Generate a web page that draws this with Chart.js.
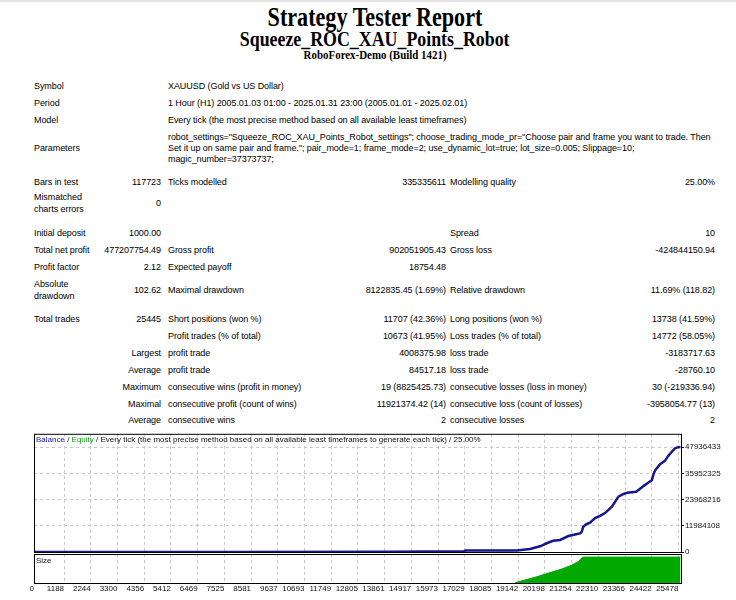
<!DOCTYPE HTML>
<html>
<head>
<script src="https://cdn.jsdelivr.net/npm/chart.js"></script>
<style>
    body { margin:0; background:#fff; width:736px; height:600px; position:relative; overflow:hidden;
           font-family:"Liberation Sans", Arial, sans-serif; color:#000; }
    .topline { position:absolute; left:0; top:0; width:736px; height:2px; background:#e4e4e4; }
    .t { position:absolute; font-size:9px; line-height:12px; white-space:nowrap; letter-spacing:-0.07px; }
    .h { position:absolute; left:0; width:750px; text-align:center; white-space:nowrap;
         font-family:"Liberation Serif", "Times New Roman", serif; font-weight:bold; }
    .h span { display:inline-block; }
    canvas { position:absolute; left:0; }
</style>
</head>
<body>

<div class="topline"></div>
<div class="h" style="top:2px; font-size:27px; line-height:30px;"><span style="transform:scaleX(0.82)">Strategy Tester Report</span></div>
<div class="h" style="top:28px; font-size:21px; line-height:22px;"><span style="transform:scaleX(0.85)">Squeeze_ROC_XAU_Points_Robot</span></div>
<div class="h" style="top:48px; font-size:13px; line-height:14px;"><span style="transform:scaleX(0.84)">RoboForex-Demo (Build 1421)</span></div>

<div id="report"></div>

<canvas id="balanceChart" width="736" height="134" style="top:428px"></canvas>
<canvas id="sizeChart" width="736" height="47" style="top:553px"></canvas>

<script type="text/javascript">
    // balance curve (trade number -> balance)
    const tradeIdx = [0, 8000, 14000, 17000, 17060, 19085, 19613, 20008, 20273, 20522,
                      20799, 21127, 21392, 21590, 21657, 21708, 21827, 21985, 22183, 22380,
                      22578, 22855, 23104, 23290, 23460, 23804, 23962, 24093, 24279, 24425,
                      24496, 24555, 24753, 24951, 25081, 25227, 25346, 25465, 25560];
    const balance = [1000, 15000, 120000, 300000, 700000, 700000, 1350000, 2600000, 4000000, 5100000,
                     5500000, 7300000, 8000000, 8500000, 9250000, 11400000, 12600000, 13400000, 15500000, 16500000,
                     17800000, 20800000, 25300000, 26400000, 27100000, 27500000, 28900000, 30100000, 31600000, 32800000,
                     35600000, 37300000, 40100000, 41700000, 44000000, 45900000, 47400000, 47900000, 47936433];

    // lot size panel
    const sizeIdx = [19020, 19415, 19810, 20325, 20840, 21235, 21510, 21710, 25560];
    const sizeLots = [0.5, 6, 11, 19, 26.5, 34, 41, 50, 50];

    const xTicks = [0, 1188, 2244, 3300, 4356, 5412, 6469, 7525, 8581, 9637, 10693, 11749, 12805,
                    13861, 14917, 15973, 17029, 18085, 19142, 20198, 21254, 22310, 23366, 24422, 25478];
    const yTicks = [0, 11984108, 23968216, 35952325, 47936433];

    // ---------- report table ----------
    const rows = [
        [86, 'Symbol', '', 'XAUUSD (Gold vs US Dollar)'],
        [103, 'Period', '', '1 Hour (H1) 2005.01.03 01:00 - 2025.01.31 23:00 (2005.01.01 - 2025.02.01)'],
        [120, 'Model', '', 'Every tick (the most precise method based on all available least timeframes)'],
        [137, '', '', 'robot_settings="Squeeze_ROC_XAU_Points_Robot_settings"; choose_trading_mode_pr="Choose pair and frame you want to trade. Then'],
        [148, 'Parameters', '', 'Set it up on same pair and frame."; pair_mode=1; frame_mode=2; use_dynamic_lot=true; lot_size=0.005; Slippage=10;'],
        [159, '', '', 'magic_number=37373737;'],
        [182, 'Bars in test', '117723', 'Ticks modelled', '335335611', 'Modelling quality', '25.00%'],
        [197, 'Mismatched'],
        [203, '', '0'],
        [209, 'charts errors'],
        [233, 'Initial deposit', '1000.00', '', '', 'Spread', '10'],
        [250, 'Total net profit', '477207754.49', 'Gross profit', '902051905.43', 'Gross loss', '-424844150.94'],
        [267, 'Profit factor', '2.12', 'Expected payoff', '18754.48'],
        [284, 'Absolute'],
        [290, '', '102.62', 'Maximal drawdown', '8122835.45 (1.69%)', 'Relative drawdown', '11.69% (118.82)'],
        [296, 'drawdown'],
        [319, 'Total trades', '25445', 'Short positions (won %)', '11707 (42.36%)', 'Long positions (won %)', '13738 (41.59%)'],
        [336, '', '', 'Profit trades (% of total)', '10673 (41.95%)', 'Loss trades (% of total)', '14772 (58.05%)'],
        [353, '', 'Largest', 'profit trade', '4008375.98', 'loss trade', '-3183717.63'],
        [370, '', 'Average', 'profit trade', '84517.18', 'loss trade', '-28760.10'],
        [387, '', 'Maximum', 'consecutive wins (profit in money)', '19 (8825425.73)', 'consecutive losses (loss in money)', '30 (-219336.94)'],
        [404, '', 'Maximal', 'consecutive profit (count of wins)', '11921374.42 (14)', 'consecutive loss (count of losses)', '-3958054.77 (13)'],
        [420, '', 'Average', 'consecutive wins', '2', 'consecutive losses', '2']
    ];
    const colX = [34, 161, 168, 446, 450, 715];
    const colRight = [false, true, false, true, false, true];

    const report = document.getElementById('report');
    rows.forEach(function (row) {
        for (let c = 1; c < row.length; c++) {
            if (!row[c]) continue;
            const d = document.createElement('div');
            d.className = 't';
            d.textContent = row[c];
            d.style.top = (row[0] - 6) + 'px';
            if (colRight[c - 1]) d.style.right = (736 - colX[c - 1]) + 'px';
            else d.style.left = colX[c - 1] + 'px';
            report.appendChild(d);
        }
    });

    // ---------- charts ----------
    Chart.defaults.font.family = '"Liberation Sans", Arial, sans-serif';
    Chart.defaults.font.size = 8;
    Chart.defaults.color = '#111';

    const xMax = 25580;

    const framePlugin = {
        id: 'frame',
        afterDraw(chart, args, opts) {
            const a = chart.chartArea, ctx = chart.ctx;
            ctx.save();
            ctx.strokeStyle = '#000';
            ctx.lineWidth = 1;
            ctx.strokeRect(a.left + 0.5, a.top + 0.5, a.right - a.left, a.bottom - a.top);
            ctx.font = '8px "Liberation Sans", Arial, sans-serif';
            ctx.textBaseline = 'middle';
            let x = a.left + 2;
            (opts.parts || []).forEach(function (p) {
                ctx.fillStyle = p[1];
                ctx.fillText(p[0], x, a.top + opts.dy);
                x += ctx.measureText(p[0]).width;
            });
            ctx.restore();
        }
    };

    new Chart(document.getElementById('balanceChart'), {
        type: 'line',
        data: {
            datasets: [{
                label: 'Balance',
                data: tradeIdx.map((v, i) => ({x: v, y: balance[i]})),
                borderColor: '#16168e',
                borderWidth: 2.5,
                pointRadius: 0,
                tension: 0
            }]
        },
        options: {
            responsive: false,
            animation: false,
            devicePixelRatio: 1,
            layout: {padding: {left: 34, top: 3, bottom: 10, right: 0}},
            plugins: {
                legend: {display: false},
                tooltip: {enabled: false},
                frame: {dy: 6, parts: [['Balance', '#1c1ca8'], [' / ', '#111'], ['Equity', '#12a012'],
                    [' / Every tick (the most precise method based on all available least timeframes to generate each tick) / 25.00%', '#111']]}
            },
            scales: {
                x: {
                    type: 'linear', min: 0, max: xMax,
                    afterBuildTicks: s => { s.ticks = xTicks.map(v => ({value: v})); },
                    afterFit: s => { s.height = 0; },
                    ticks: {display: false},
                    grid: {color: '#c8c8c8', drawTicks: false},
                    border: {display: false, dash: [3, 3]}
                },
                y: {
                    position: 'right', min: 0, max: 54000000,
                    afterBuildTicks: s => { s.ticks = yTicks.map(v => ({value: v})); },
                    afterFit: s => { s.width = 55; },
                    ticks: {padding: 1, callback: v => String(v)},
                    grid: {color: '#c8c8c8', tickColor: '#000', tickLength: 3},
                    border: {display: false, dash: [3, 3]}
                }
            }
        },
        plugins: [framePlugin]
    });

    new Chart(document.getElementById('sizeChart'), {
        type: 'line',
        data: {
            datasets: [{
                label: 'Size',
                data: sizeIdx.map((v, i) => ({x: v, y: sizeLots[i]})),
                borderColor: '#00a800',
                backgroundColor: '#00a800',
                borderWidth: 1,
                fill: 'origin',
                pointRadius: 0,
                tension: 0
            }]
        },
        options: {
            responsive: false,
            animation: false,
            devicePixelRatio: 1,
            layout: {padding: {left: 34, top: 1, bottom: 0, right: 0}},
            plugins: {
                legend: {display: false},
                tooltip: {enabled: false},
                frame: {dy: 7, parts: [['Size', '#111']]}
            },
            scales: {
                x: {
                    type: 'linear', min: 0, max: xMax,
                    afterBuildTicks: s => { s.ticks = xTicks.map(v => ({value: v})); },
                    afterFit: s => { s.height = 17; },
                    ticks: {align: 'end', padding: 1, maxRotation: 0, autoSkip: false, callback: v => String(v)},
                    grid: {color: '#c8c8c8', drawTicks: false},
                    border: {display: false, dash: [3, 3]}
                },
                y: {
                    position: 'right', min: 0, max: 56,
                    afterFit: s => { s.width = 55; },
                    ticks: {display: false},
                    grid: {display: false},
                    border: {display: false}
                }
            }
        },
        plugins: [framePlugin]
    });
</script>
</body>
</html>
